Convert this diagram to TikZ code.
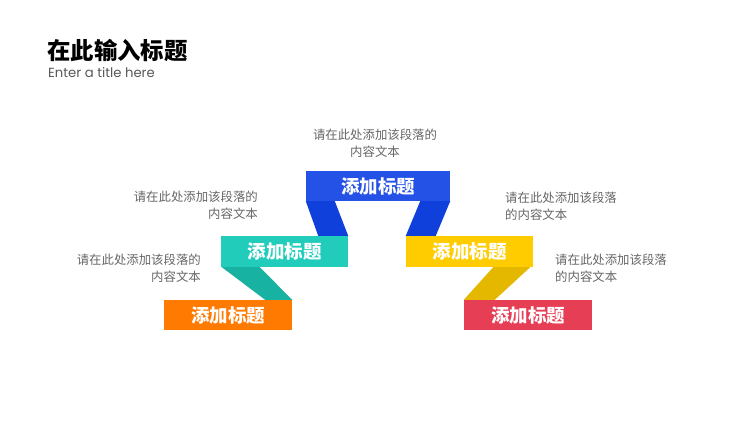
\documentclass[tikz,border=0pt]{standalone}
\usepackage{fontspec}
\setmainfont{Noto Sans CJK SC}
\newfontfamily\cjk{Noto Sans CJK SC}
\newfontfamily\latinsans{Poppins}
\usetikzlibrary{calc}
\definecolor{bluebox}{HTML}{2452E6}
\definecolor{bluestrip}{HTML}{1040DC}
\definecolor{tealbox}{HTML}{22CCBB}
\definecolor{tealstrip}{HTML}{17B2A2}
\definecolor{yellowbox}{HTML}{FFCC00}
\definecolor{yellowstrip}{HTML}{E5B800}
\definecolor{orangebox}{HTML}{FF7A00}
\definecolor{redbox}{HTML}{E63E55}
\definecolor{desctext}{HTML}{666666}
\definecolor{subtext}{HTML}{595959}
\tikzset{
  titlebox/.style={rectangle, inner sep=0pt, text=white,
    font=\cjk\bfseries\fontsize{18.5}{21}\selectfont},
  desc/.style={inner sep=0pt, text=desctext,
    font=\cjk\fontsize{12.4}{17}\selectfont},
}
\begin{document}
\begin{tikzpicture}[x=1pt,y=-1pt]
\useasboundingbox (0,0) rectangle (750,422);
\fill[white] (0,0) rectangle (750,422);
% title
\node[anchor=west, inner sep=0pt, text=black, font=\cjk\bfseries\fontsize{23.4}{26}\selectfont] (ttl) at (47,51) {在此输入标题};
\node[anchor=west, inner sep=0pt, text=subtext, font=\latinsans\fontsize{13.2}{15}\selectfont] (sub) at (48,72.5) {Enter a title here};
% boxes
\node[titlebox, fill=bluebox, minimum width=144pt, minimum height=30pt] (blue) at (378,186) {添加标题};
\node[titlebox, fill=tealbox, minimum width=127pt, minimum height=31pt] (teal) at (284.5,251.5) {添加标题};
\node[titlebox, fill=yellowbox, minimum width=127pt, minimum height=31pt] (yellow) at (469.5,251.5) {添加标题};
\node[titlebox, fill=orangebox, minimum width=128pt, minimum height=30pt] (orange) at (228,315) {添加标题};
\node[titlebox, fill=redbox, minimum width=128pt, minimum height=30pt] (red) at (528,315) {添加标题};
% strips
\fill[bluestrip] (blue.south west) -- ($(blue.south west)+(29,0)$) -- (teal.north east) -- ($(teal.north east)+(-30,0)$) -- cycle;
\fill[bluestrip] ($(blue.south east)+(-30,0)$) -- (blue.south east) -- ($(yellow.north west)+(30,0)$) -- (yellow.north west) -- cycle;
\fill[tealstrip] ($(teal.south west)+(1,0)$) -- ($(teal.south west)+(39,0)$) -- (orange.north east) -- ($(orange.north east)+(-27,0)$) -- cycle;
\fill[yellowstrip] ($(yellow.south east)+(-40,0)$) -- ($(yellow.south east)+(-3,0)$) -- ($(red.north west)+(31,0)$) -- (red.north west) -- cycle;
% descriptions
\node[desc, align=center] (dtop) at (375,143.5) {请在此处添加该段落的\\内容文本};
\node[desc, align=right, anchor=east] (dteal) at (258,205.5) {请在此处添加该段落的\\内容文本};
\node[desc, align=right, anchor=east] (dorange) at (201,268) {请在此处添加该段落的\\内容文本};
\node[desc, align=left, anchor=west] (dyellow) at (505,206.5) {请在此处添加该段落\\的内容文本};
\node[desc, align=left, anchor=west] (dred) at (555,268.5) {请在此处添加该段落\\的内容文本};
\end{tikzpicture}
\end{document}
